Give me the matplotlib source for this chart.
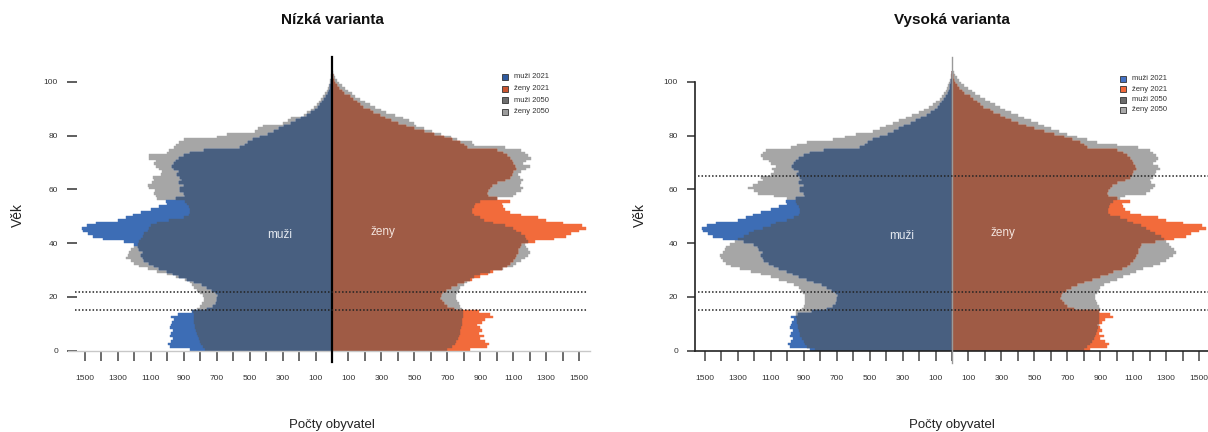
import numpy as np
import matplotlib
matplotlib.use("Agg")
import matplotlib.pyplot as plt
from matplotlib.patches import Rectangle

plt.rcParams['font.family'] = ['Liberation Sans', 'DejaVu Sans']

# ---------------------------------------------------------------- data
ages = np.arange(0, 104)

men_2021 = [
    860, 985, 995, 980, 965, 985, 975, 965, 985, 975, 970, 960, 975, 935, 850,
    760, 720, 705, 700, 700, 695, 705, 730, 760, 790, 840, 880, 930, 965, 1000,
    1050, 1080, 1110, 1140, 1150, 1160, 1150, 1170, 1180, 1200, 1260, 1390, 1450,
    1480, 1510, 1520, 1490, 1430, 1300, 1250, 1210, 1160, 1100, 1050, 1000, 1010,
    950, 890, 900, 920, 920, 900, 930, 910, 920, 940, 930, 960, 970, 960, 950,
    930, 900, 860, 780, 560, 530, 510, 480, 440, 390, 350, 320, 290, 250, 220,
    190, 150, 125, 105, 85, 70, 58, 46, 36, 27, 20, 14, 10, 6, 4, 3, 2, 1]

women_2021 = [
    840, 940, 955, 930, 900, 920, 890, 910, 900, 880, 910, 930, 975, 960, 890,
    740, 700, 680, 665, 655, 660, 670, 690, 720, 760, 800, 850, 900, 950, 980,
    1030, 1060, 1080, 1100, 1110, 1120, 1130, 1130, 1140, 1150, 1230, 1350, 1420,
    1450, 1500, 1540, 1520, 1400, 1300, 1250, 1150, 1080, 1050, 1040, 1030, 1080,
    1000, 950, 940, 950, 960, 970, 1000, 1050, 1080, 1090, 1100, 1120, 1110, 1100,
    1090, 1080, 1060, 1040, 1000, 820, 800, 780, 730, 680, 620, 560, 500, 450,
    400, 360, 320, 290, 250, 230, 190, 170, 150, 130, 110, 75, 60, 45, 30, 20,
    12, 8, 5, 3]

men_2050_low = [
    770, 785, 795, 800, 810, 815, 820, 825, 830, 830, 835, 835, 840, 840, 845,
    820, 800, 790, 780, 780, 785, 800, 820, 835, 850, 865, 890, 950, 1000, 1060,
    1120, 1170, 1200, 1220, 1250, 1240, 1230, 1220, 1200, 1180, 1170, 1160, 1150,
    1140, 1120, 1110, 1100, 1060, 990, 900, 870, 860, 860, 870, 880, 890, 1060,
    1070, 1080, 1075, 1110, 1120, 1090, 1080, 1085, 1040, 1030, 1050, 1070, 1080,
    1070, 1110, 1110, 1000, 990, 960, 950, 930, 900, 700, 640, 470, 450, 420,
    300, 270, 250, 170, 150, 130, 110, 92, 78, 64, 52, 42, 33, 25, 19, 14, 10,
    7, 5, 3]

women_2050_low = [
    700, 730, 745, 755, 765, 770, 775, 780, 785, 790, 790, 790, 795, 795, 795,
    790, 780, 770, 760, 750, 750, 760, 770, 780, 800, 820, 840, 860, 900, 960,
    1040, 1100, 1120, 1150, 1170, 1190, 1200, 1190, 1180, 1170, 1190, 1180, 1170,
    1150, 1120, 1100, 1050, 980, 920, 900, 860, 850, 850, 860, 870, 900, 1000,
    1100, 1120, 1150, 1160, 1140, 1150, 1160, 1140, 1130, 1150, 1180, 1200, 1160,
    1180, 1210, 1190, 1170, 1150, 1050, 860, 850, 760, 720, 660, 610, 560, 510,
    500, 470, 430, 380, 330, 300, 260, 230, 200, 170, 140, 120, 100, 80, 60, 40,
    30, 20, 12, 6]

men_2050_high = [
    830, 880, 890, 900, 910, 920, 925, 930, 935, 935, 940, 940, 945, 945, 950,
    910, 900, 895, 890, 890, 895, 905, 915, 930, 960, 1000, 1050, 1100, 1160, 1220,
    1290, 1340, 1370, 1390, 1400, 1410, 1390, 1380, 1370, 1350, 1320, 1300, 1260,
    1230, 1200, 1150, 1100, 1070, 1000, 960, 930, 920, 920, 930, 940, 950, 1000,
    1080, 1180, 1200, 1240, 1210, 1180, 1150, 1160, 1100, 1080, 1090, 1070, 1100,
    1110, 1150, 1160, 1150, 1130, 980, 940, 880, 720, 650, 580, 480, 440, 400,
    360, 320, 280, 240, 200, 170, 140, 115, 95, 75, 60, 48, 38, 29, 22, 16, 11,
    8, 5, 3]

women_2050_high = [
    800, 820, 840, 850, 860, 870, 875, 880, 885, 890, 890, 890, 895, 895, 895,
    900, 890, 880, 875, 870, 870, 880, 890, 900, 920, 960, 1000, 1040, 1080, 1120,
    1160, 1220, 1260, 1300, 1320, 1340, 1360, 1350, 1330, 1320, 1300, 1290, 1270,
    1230, 1200, 1180, 1150, 1100, 1060, 1020, 960, 950, 950, 955, 960, 980, 1020,
    1050, 1180, 1200, 1220, 1230, 1210, 1200, 1220, 1230, 1240, 1260, 1250, 1220,
    1240, 1250, 1240, 1220, 1200, 1130, 1000, 880, 820, 760, 700, 650, 600, 560,
    520, 480, 440, 400, 360, 320, 290, 260, 230, 200, 170, 140, 120, 95, 75, 55,
    40, 28, 18, 10]

panel_titles = ["Nízká varianta", "Vysoká varianta"]
legend_labels = ["muži 2021", "ženy 2021", "muži 2050", "ženy 2050"]
tick_values = np.arange(-1500, 1501, 100)
age_ticks = [0, 20, 40, 60, 80, 100]
ref_lines = [[15, 22], [15, 22, 65]]

# ---------------------------------------------------------------- style
C_M_BOTH = "#485f80"
C_M_2021 = "#3d6db5"
C_F_BOTH = "#9f5b45"
C_F_2021 = "#f26b3b"
C_GRAY = "#a6a6a6"

W, H = 1208, 432
fig = plt.figure(figsize=(W / 100, H / 100), dpi=100)

PX_PER_UNIT = 0.1647
Y0_PX, YTOP_PX = 350.7, 57.0
PX_PER_YEAR = 2.69
YMAX = (Y0_PX - YTOP_PX) / PX_PER_YEAR


def make_axes(left_px, right_px, center_px):
    ax = fig.add_axes([left_px / W, (H - Y0_PX) / H,
                       (right_px - left_px) / W, (Y0_PX - YTOP_PX) / H])
    ax.set_xlim((left_px - center_px) / PX_PER_UNIT,
                (right_px - center_px) / PX_PER_UNIT)
    ax.set_ylim(0, YMAX)
    return ax


def draw_pyramid(ax, m50, f50):
    m21 = np.array(men_2021, float)
    f21 = np.array(women_2021, float)
    m50 = np.array(m50, float)
    f50 = np.array(f50, float)
    kw = dict(height=1.0, align="edge", linewidth=0.3)
    # projected population (grey)
    ax.barh(ages, -m50, color=C_GRAY, edgecolor=C_GRAY, **kw)
    ax.barh(ages, f50, color=C_GRAY, edgecolor=C_GRAY, **kw)
    # current population
    ax.barh(ages, -m21, color=C_M_2021, edgecolor=C_M_2021, **kw)
    ax.barh(ages, f21, color=C_F_2021, edgecolor=C_F_2021, **kw)
    # common part of both years
    ax.barh(ages, -np.minimum(m21, m50), color=C_M_BOTH, edgecolor=C_M_BOTH, **kw)
    ax.barh(ages, np.minimum(f21, f50), color=C_F_BOTH, edgecolor=C_F_BOTH, **kw)


def style_xaxis(ax):
    ax.set_xticks(tick_values)
    ax.set_xticklabels([str(abs(v)) if (abs(v) // 100) % 2 == 1 else ""
                        for v in tick_values])
    ax.tick_params(axis="x", direction="out", length=7.2, width=1.1,
                   color="#444444", pad=10, labelsize=6, labelcolor="#333333")


# ---------------------------------------------------------------- left panel
axL = make_axes(77, 590, 332)
draw_pyramid(axL, men_2050_low, women_2050_low)
for s in axL.spines.values():
    s.set_visible(False)
style_xaxis(axL)
axL.set_yticks(age_ticks)
axL.tick_params(axis="y", direction="out", length=7.2, width=1.1,
                color="#333333", pad=6.5, labelsize=6, labelcolor="#333333")
axL.plot([(68 - 332) / PX_PER_UNIT, (590 - 332) / PX_PER_UNIT], [0, 0],
         color="#c8c8c8", lw=1.0, clip_on=False, zorder=4)
axL.plot([0, 0], [-11.5 / PX_PER_YEAR, YMAX], color="black", lw=1.6,
         clip_on=False, zorder=6)
for a in ref_lines[0]:
    axL.plot([(75 - 332) / PX_PER_UNIT, (588 - 332) / PX_PER_UNIT], [a, a],
             color="#222222", lw=1.1, ls=(0, (1, 1.3)), clip_on=False, zorder=7)
axL.text((280 - 332) / PX_PER_UNIT, 43, "muži", color="#e4e9f0", fontsize=8.5,
         ha="center", va="center", zorder=8)
axL.text((383 - 332) / PX_PER_UNIT, 44, "ženy", color="#f3e3dc", fontsize=8.5,
         ha="center", va="center", zorder=8)

# ---------------------------------------------------------------- right panel
axR = make_axes(695, 1208, 952)
draw_pyramid(axR, men_2050_high, women_2050_high)
for k in ("top", "right"):
    axR.spines[k].set_visible(False)
axR.spines["left"].set_color("#222222")
axR.spines["left"].set_linewidth(1.2)
axR.spines["left"].set_bounds(0, 100)
axR.spines["bottom"].set_color("#222222")
axR.spines["bottom"].set_linewidth(1.2)
style_xaxis(axR)
axR.set_yticks(age_ticks)
axR.tick_params(axis="y", direction="out", length=5.8, width=1.1,
                color="#333333", pad=6.5, labelsize=6, labelcolor="#333333")
axR.plot([0, 0], [-12 / PX_PER_YEAR, YMAX], color="#9a9a9a", lw=1.0,
         clip_on=False, zorder=6)
for a in ref_lines[1]:
    axR.plot([(698 - 952) / PX_PER_UNIT, (1208 - 952) / PX_PER_UNIT], [a, a],
             color="#222222", lw=1.1, ls=(0, (1, 1.3)), clip_on=False, zorder=7)
axR.text((902 - 952) / PX_PER_UNIT, 42.6, "muži", color="#e4e9f0", fontsize=8.5,
         ha="center", va="center", zorder=8)
axR.text((1003 - 952) / PX_PER_UNIT, 43.7, "ženy", color="#f3e3dc", fontsize=8.5,
         ha="center", va="center", zorder=8)

# ---------------------------------------------------------------- titles, labels
for cx, title in zip((332, 952), panel_titles):
    fig.text(cx / W, 1 - 20 / H, title, ha="center", va="center",
             fontsize=11, fontweight="bold", color="#111111")
    fig.text(cx / W, 1 - 425 / H, "Počty obyvatel", ha="center", va="center",
             fontsize=9.5, color="#222222")
for lx in (18, 640):
    fig.text(lx / W, 1 - 215 / H, "Věk", ha="center", va="center",
             rotation=90, fontsize=10, color="#222222")


# ---------------------------------------------------------------- legends
def draw_legend(x_px, y_px, dy_px, colors):
    for i, (lab, col) in enumerate(zip(legend_labels, colors)):
        yc = y_px + i * dy_px
        fig.patches.append(Rectangle(((x_px - 3) / W, 1 - (yc + 3) / H),
                                     6 / W, 6 / H, transform=fig.transFigure,
                                     facecolor=col, edgecolor="#333333",
                                     linewidth=0.6))
        fig.text((x_px + 9) / W, 1 - yc / H, lab, ha="left", va="center",
                 fontsize=5.5, color="#333333")


draw_legend(505, 77, 11.6, ["#2f5a9e", "#c9542f", "#6e6e6e", "#9c9c9c"])
draw_legend(1123, 79, 10.3, ["#4472c4", "#f0683a", "#6b6b6b", "#a8a8a8"])

fig.savefig("out.png", dpi=100)
